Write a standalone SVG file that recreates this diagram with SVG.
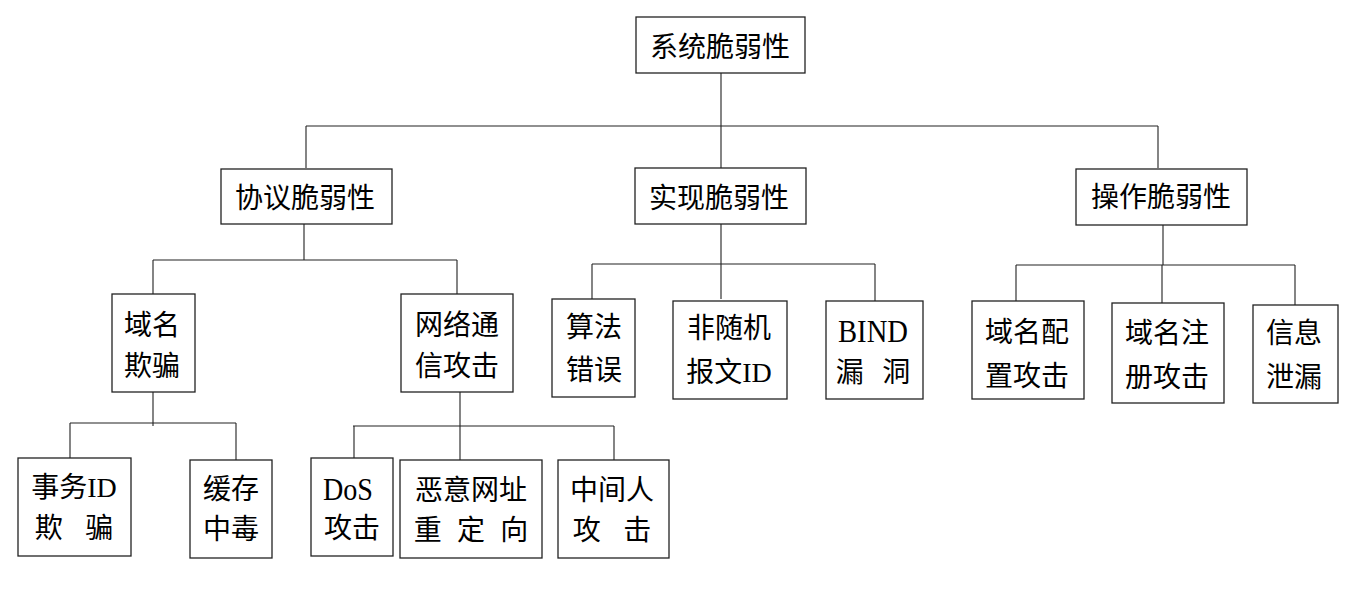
<svg xmlns="http://www.w3.org/2000/svg" width="1372" height="606" viewBox="0 0 1372 606">
<style>
.box{fill:#fff;stroke:#222;stroke-width:1.3}
.ln{fill:none;stroke:#222;stroke-width:1.1}
text{font-family:"Noto Sans CJK SC","Noto Sans",sans-serif;font-size:28px;fill:#000;text-anchor:middle}
.lat{font-family:"Liberation Serif",serif}
.big{font-size:32px}
</style>
<rect width="1372" height="606" fill="#fff"/>
<g id="connectors">
<path class="ln" d="M721,73V126M306,126H1158M306,126V168M721,126V168M1158,126V168"/>
<path class="ln" d="M304,224V260M153,260H457M153,260V294M457,260V294"/>
<path class="ln" d="M721,224V299M592,264H875M592,264V299M875,264V301"/>
<path class="ln" d="M1163,225V265M1016,265H1295M1016,265V301M1162,265V303M1295,265V305"/>
<path class="ln" d="M153,392V426M70,423H236M70,423V458M236,423V460"/>
<path class="ln" d="M460,392V460M353,426H614M354,426V458M614,426V460"/>
</g>
<g id="n_root"><rect class="box" x="636" y="17" width="169" height="56"/><text x="720" y="57">系统脆弱性</text></g>
<g id="n_proto"><rect class="box" x="221" y="169" width="171" height="55"/><text x="305" y="208">协议脆弱性</text></g>
<g id="n_impl"><rect class="box" x="635" y="168" width="171" height="56"/><text x="719" y="208">实现脆弱性</text></g>
<g id="n_oper"><rect class="box" x="1076" y="169" width="171" height="56"/><text x="1161" y="207">操作脆弱性</text></g>
<g id="n_dnsspoof"><rect class="box" x="112" y="294" width="83" height="98"/><text x="152" y="335">域名</text><text x="152" y="376">欺骗</text></g>
<g id="n_netatk"><rect class="box" x="401" y="294" width="112" height="98"/><text x="457" y="335">网络通</text><text x="457" y="376">信攻击</text></g>
<g id="n_algo"><rect class="box" x="552" y="299" width="83" height="98"/><text x="594" y="337">算法</text><text x="594" y="380">错误</text></g>
<g id="n_nonrand"><rect class="box" x="673" y="301" width="114" height="98"/><text x="729" y="338">非随机</text><text x="729" y="382">报文<tspan class="lat">ID</tspan></text></g>
<g id="n_bind"><rect class="box" x="826" y="301" width="97" height="98"/><text class="lat big" x="873" y="342" textLength="70" lengthAdjust="spacingAndGlyphs">BIND</text><text x="873" y="382" style="word-spacing:12px">漏 洞</text></g>
<g id="n_cfg"><rect class="box" x="972" y="301" width="112" height="98"/><text x="1027" y="342">域名配</text><text x="1027" y="386">置攻击</text></g>
<g id="n_reg"><rect class="box" x="1112" y="303" width="112" height="100"/><text x="1167" y="343">域名注</text><text x="1167" y="387">册攻击</text></g>
<g id="n_leak"><rect class="box" x="1253" y="305" width="85" height="98"/><text x="1294" y="343">信息</text><text x="1294" y="387">泄漏</text></g>
<g id="n_txid"><rect class="box" x="18" y="458" width="113" height="98"/><text x="74" y="497">事务<tspan class="lat">ID</tspan></text><text x="74" y="538" style="word-spacing:16px">欺 骗</text></g>
<g id="n_cache"><rect class="box" x="190" y="460" width="82" height="98"/><text x="231" y="499">缓存</text><text x="231" y="539">中毒</text></g>
<g id="n_dos"><rect class="box" x="311" y="458" width="82" height="98"/><text class="lat big" x="348" y="500" textLength="50" lengthAdjust="spacingAndGlyphs">DoS</text><text x="352" y="538">攻击</text></g>
<g id="n_redir"><rect class="box" x="400" y="460" width="142" height="98"/><text x="471" y="500">恶意网址</text><text x="471" y="540" style="word-spacing:9px">重 定 向</text></g>
<g id="n_mitm"><rect class="box" x="558" y="460" width="111" height="98"/><text x="612" y="500">中间人</text><text x="612" y="540" style="word-spacing:16px">攻 击</text></g>
</svg>
